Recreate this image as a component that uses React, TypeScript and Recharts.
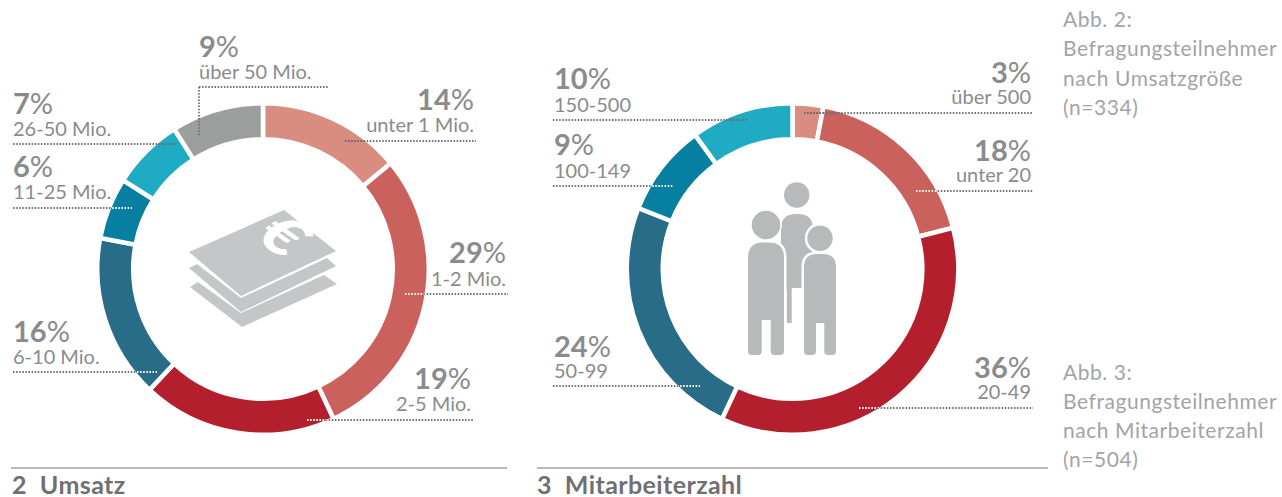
import { PieChart, Pie, Cell } from 'recharts'

// ─── Data ─────────────────────────────────────────────────────────────────────

const umsatzCategories = ['unter 1 Mio.', '1-2 Mio.', '2-5 Mio.', '6-10 Mio.', '11-25 Mio.', '26-50 Mio.', 'über 50 Mio.']
const umsatzValues = [14, 29, 19, 16, 6, 7, 9]

const mitarbeiterCategories = ['über 500', 'unter 20', '20-49', '50-99', '100-149', '150-500']
const mitarbeiterValues = [3, 18, 36, 24, 9, 10]

const umsatzRows = umsatzCategories.map((name, i) => ({ name, value: umsatzValues[i] }))
const mitarbeiterRows = mitarbeiterCategories.map((name, i) => ({ name, value: mitarbeiterValues[i] }))

// ─── Colour tokens ────────────────────────────────────────────────────────────

const SLICES = ['#D98D81', '#CB615D', '#B41F2D', '#286C88', '#067FA1', '#1FABC3', '#9C9E9D']
const LABEL = '#8A8B8D'
const NOTE = '#A3A4A6'
const DOT = '#6E6F71'
const RULE = '#6F7072'
const MONEY = '#C4C6C8'
const PEOPLE = '#B8B9BB'
const FONT = 'Lato, "Noto Sans", sans-serif'

const CY = 269
const LEFT_CX = 263
const RIGHT_CX = 792.5
const OUTER = 163.5
const INNER = 132
// the white slice stroke eats half its width off each edge, so the pie is drawn that much fatter
const STROKE = 4.5

// ─── Callout layout, same order as the category arrays ────────────────────────

type Spot = {
  x: number; anchor: 'start' | 'end'; pctY: number; nameY: number
  lineY: number; x1: number; x2: number; ring?: string
}

const umsatzSpots: Spot[] = [
  { x: 474, anchor: 'end', pctY: 110, nameY: 132, lineY: 141, x1: 345, x2: 476, ring: DOT },
  { x: 506, anchor: 'end', pctY: 263, nameY: 286, lineY: 294, x1: 405, x2: 508 },
  { x: 471, anchor: 'end', pctY: 389, nameY: 411, lineY: 420, x1: 307, x2: 473 },
  { x: 13, anchor: 'start', pctY: 342, nameY: 364, lineY: 372, x1: 13, x2: 157 },
  { x: 13, anchor: 'start', pctY: 177, nameY: 199, lineY: 208, x1: 13, x2: 132 },
  { x: 13, anchor: 'start', pctY: 114, nameY: 136, lineY: 144, x1: 13, x2: 177, ring: DOT },
  { x: 199, anchor: 'start', pctY: 57, nameY: 79, lineY: 87, x1: 199, x2: 328, ring: DOT },
]

const mitarbeiterSpots: Spot[] = [
  { x: 1031, anchor: 'end', pctY: 83, nameY: 104, lineY: 113, x1: 804, x2: 1033, ring: DOT },
  { x: 1031, anchor: 'end', pctY: 161, nameY: 182, lineY: 191, x1: 916, x2: 1033 },
  { x: 1031, anchor: 'end', pctY: 378, nameY: 399, lineY: 408, x1: 859, x2: 1033 },
  { x: 554, anchor: 'start', pctY: 357, nameY: 378, lineY: 386, x1: 553, x2: 700 },
  { x: 554, anchor: 'start', pctY: 155, nameY: 178, lineY: 186, x1: 553, x2: 673 },
  { x: 554, anchor: 'start', pctY: 89, nameY: 112, lineY: 120, x1: 553, x2: 747, ring: DOT },
]

const noteOne = ['Abb. 2:', 'Befragungsteilnehmer', 'nach Umsatzgröße', '(n=334)']
const noteTwo = ['Abb. 3:', 'Befragungsteilnehmer', 'nach Mitarbeiterzahl', '(n=504)']

// ─── Helpers ──────────────────────────────────────────────────────────────────

const annulus = (cx: number) =>
  `M${cx - OUTER},${CY}a${OUTER},${OUTER} 0 1,0 ${OUTER * 2},0a${OUTER},${OUTER} 0 1,0 ${-OUTER * 2},0Z` +
  `M${cx - INNER},${CY}a${INNER},${INNER} 0 1,0 ${INNER * 2},0a${INNER},${INNER} 0 1,0 ${-INNER * 2},0Z`

function Callouts({ names, values, spots, clip }: { names: string[]; values: number[]; spots: Spot[]; clip: string }) {
  return (
    <g fontFamily={FONT}>
      {spots.map((s, i) => (
        <g key={names[i]}>
          <line x1={s.x1} x2={s.x2} y1={s.lineY} y2={s.lineY} stroke={DOT} strokeWidth={1.8} strokeDasharray="1.5 1.6" />
          <line x1={s.x1} x2={s.x2} y1={s.lineY} y2={s.lineY} stroke={s.ring ?? '#FFFFFF'} strokeWidth={1.8} strokeDasharray="1.5 1.6" clipPath={`url(#${clip})`} />
          <text x={s.x} y={s.pctY} textAnchor={s.anchor} fill={LABEL} fontSize={29} fontWeight={700}>
            {values[i]}<tspan fontWeight={400}>%</tspan>
          </text>
          <text x={s.x} y={s.nameY} textAnchor={s.anchor} fill={LABEL} fontSize={20}>{names[i]}</text>
        </g>
      ))}
    </g>
  )
}

function MoneyIcon() {
  return (
    <g fill={MONEY}>
      <polygon points="190,287 198,282 241,313 324,275 337,284 242,327" />
      <polygon points="189,268 197,264 241,298 327,258 336,266 241,312" />
      <polygon points="284,210 336,251 241,296 189,252" />
      <text transform="matrix(0.88,0.62,-0.8,0.56,267,248)" textAnchor="middle" fontFamily={FONT} fontWeight={900} fontSize={62} fill="#FFFFFF">€</text>
    </g>
  )
}

function PeopleIcon() {
  return (
    <g fill={PEOPLE} stroke="#FFFFFF" style={{ paintOrder: 'stroke' }}>
      <path strokeWidth={0} d="M781,229Q781,214 796,214L798,214Q813,214 813,229L813,288L791.7,288L791.7,323L786.7,323L786.7,290L781,290Z" />
      <circle cx={796.7} cy={195} r={12.7} strokeWidth={0} />
      <circle cx={766} cy={225} r={14.3} strokeWidth={3} />
      <circle cx={820} cy={238.3} r={12.7} strokeWidth={5} />
      <path strokeWidth={5} d="M748,258Q748,242.5 763,242.5L769,242.5Q784,242.5 784,258L784,351Q784,355 780,355L774.5,355Q770.7,355 770.7,351L770.7,320L761.7,320L761.7,351Q761.7,355 758,355L752,355Q748,355 748,351Z" />
      <path strokeWidth={5} d="M804,267Q804,254 817,254L823,254Q836,254 836,267L836,351Q836,355 832,355L828,355Q824.3,355 824.3,351L824.3,323L816,323L816,351Q816,355 812,355L808,355Q804,355 804,351Z" />
    </g>
  )
}

// ─── Main export ──────────────────────────────────────────────────────────────

export default function App() {
  return (
    <div style={{ position: 'absolute', left: 0, top: 0, width: 1282, height: 497, background: '#FFFFFF', overflow: 'hidden' }}>
      <PieChart width={1282} height={497} margin={{ top: 0, right: 0, bottom: 0, left: 0 }}>
        <Pie
          data={umsatzRows} dataKey="value" nameKey="name"
          cx={LEFT_CX} cy={CY} innerRadius={INNER - STROKE / 2} outerRadius={OUTER + STROKE / 2}
          startAngle={90} endAngle={-270} stroke="#FFFFFF" strokeWidth={STROKE}
          isAnimationActive={false}
        >
          {umsatzRows.map((r, i) => <Cell key={r.name} fill={SLICES[i]} />)}
        </Pie>
        <Pie
          data={mitarbeiterRows} dataKey="value" nameKey="name"
          cx={RIGHT_CX} cy={CY} innerRadius={INNER - STROKE / 2} outerRadius={OUTER + STROKE / 2}
          startAngle={90} endAngle={-270} stroke="#FFFFFF" strokeWidth={STROKE}
          isAnimationActive={false}
        >
          {mitarbeiterRows.map((r, i) => <Cell key={r.name} fill={SLICES[i]} />)}
        </Pie>
      </PieChart>

      <svg width={1282} height={497} style={{ position: 'absolute', left: 0, top: 0 }}>
        <defs>
          <clipPath id="ringLeft"><path d={annulus(LEFT_CX)} clipRule="evenodd" /></clipPath>
          <clipPath id="ringRight"><path d={annulus(RIGHT_CX)} clipRule="evenodd" /></clipPath>
        </defs>

        <MoneyIcon />
        <PeopleIcon />

        {/* the 9% leader also drops down into its slice */}
        <line x1={199} x2={199} y1={87} y2={136} stroke={DOT} strokeWidth={1.8} strokeDasharray="1.5 1.6" />

        <Callouts names={umsatzCategories} values={umsatzValues} spots={umsatzSpots} clip="ringLeft" />
        <Callouts names={mitarbeiterCategories} values={mitarbeiterValues} spots={mitarbeiterSpots} clip="ringRight" />

        <line x1={11} x2={507} y1={468} y2={468} stroke={RULE} strokeWidth={1} />
        <line x1={537} x2={1048} y1={468} y2={468} stroke={RULE} strokeWidth={1} />
        <g fontFamily={FONT} fontWeight={700} fontSize={25} letterSpacing={0.4} fill={RULE}>
          <text x={12} y={494} xmlSpace="preserve">2  Umsatz</text>
          <text x={537} y={494} xmlSpace="preserve">3  Mitarbeiterzahl</text>
        </g>

        <g fontFamily={FONT} fontSize={21} letterSpacing={0.55} fill={NOTE}>
          {noteOne.map((t, i) => <text key={t} x={1063} y={27 + i * 29.3}>{t}</text>)}
          {noteTwo.map((t, i) => <text key={t} x={1063} y={380 + i * 29}>{t}</text>)}
        </g>
      </svg>
    </div>
  )
}
